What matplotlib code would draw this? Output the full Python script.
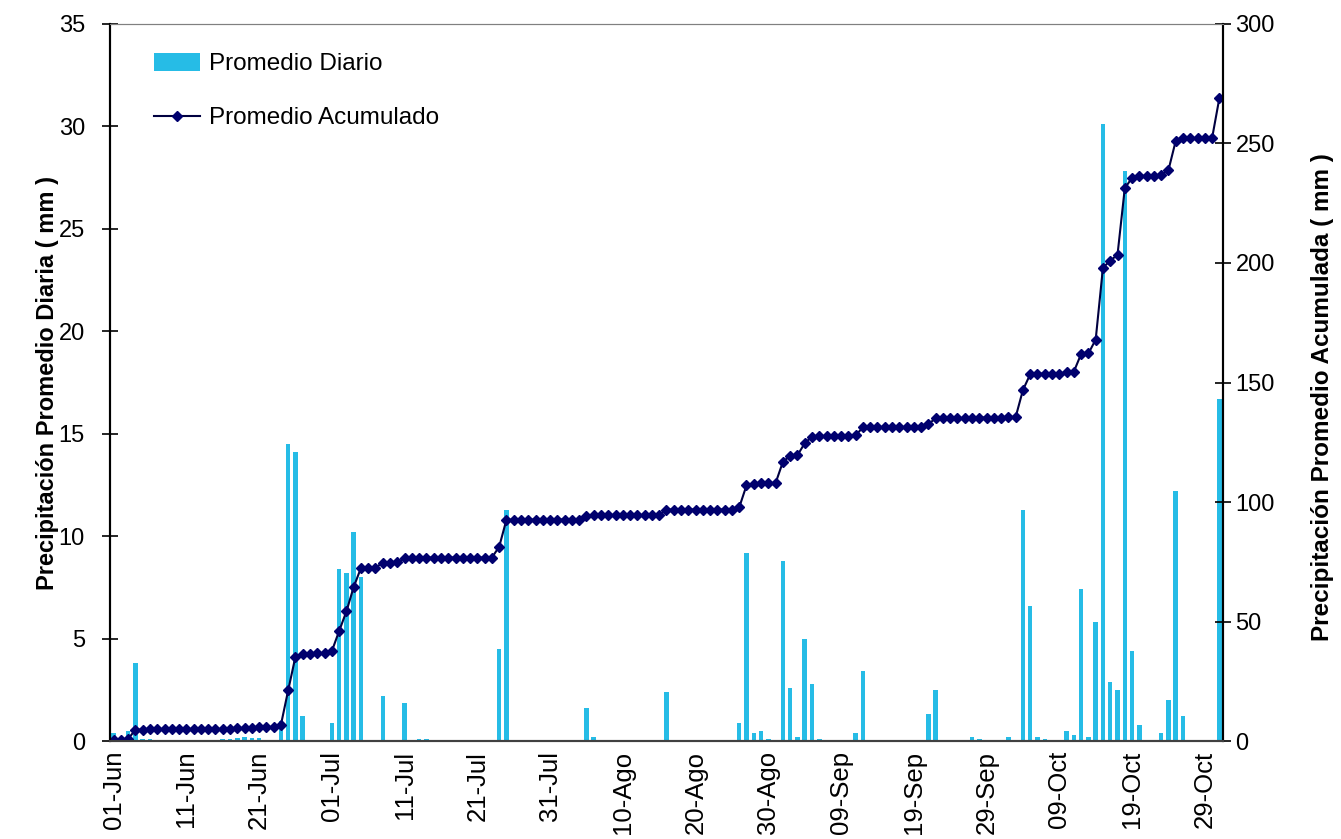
import numpy as np
import matplotlib
matplotlib.use("Agg")
import matplotlib.pyplot as plt
import datetime as dt

plt.rcParams['font.family'] = ['Liberation Sans', 'DejaVu Sans']

# Fechas: 01-Jun a 31-Oct (153 dias)
meses = {6: 'Jun', 7: 'Jul', 8: 'Ago', 9: 'Sep', 10: 'Oct'}
inicio = dt.date(2000, 6, 1)
fechas = [inicio + dt.timedelta(days=i) for i in range(153)]
etiquetas = ["%02d-%s" % (f.day, meses[f.month]) for f in fechas]

# Precipitacion promedio diaria (mm): {indice de dia: valor}
lluvia = {
    0: 0.4, 2: 0.5, 3: 3.8, 4: 0.1, 5: 0.1,
    15: 0.1, 16: 0.1, 17: 0.15, 18: 0.2, 19: 0.15, 20: 0.15,
    23: 1.0, 24: 14.5, 25: 14.1, 26: 1.2, 27: 0.05, 28: 0.05, 29: 0.05,
    30: 0.9, 31: 8.4, 32: 8.2, 33: 10.2, 34: 8.0, 35: 0.05,
    37: 2.2, 39: 0.05, 40: 1.85, 42: 0.1, 43: 0.1,
    53: 4.5, 54: 11.3, 55: 0.05, 60: 0.05, 65: 1.6, 66: 0.2,
    76: 2.4, 86: 0.9, 87: 9.2, 88: 0.4, 89: 0.5, 90: 0.1,
    92: 8.8, 93: 2.6, 94: 0.2, 95: 5.0, 96: 2.8, 97: 0.1,
    102: 0.4, 103: 3.4, 112: 1.3, 113: 2.5, 118: 0.2, 119: 0.1, 123: 0.2,
    125: 11.3, 126: 6.6, 127: 0.2, 128: 0.1,
    131: 0.5, 132: 0.3, 133: 7.4, 134: 0.2, 135: 5.8, 136: 30.1,
    137: 2.9, 138: 2.5, 139: 27.8, 140: 4.4, 141: 0.8,
    144: 0.4, 145: 2.0, 146: 12.2, 147: 1.2, 152: 16.7,
}
diario = np.zeros(len(fechas))
for d, v in lluvia.items():
    diario[d] = v
acumulado = np.cumsum(diario)

x = np.arange(len(fechas))

fig = plt.figure(figsize=(13.41, 8.39), dpi=100)
ax = fig.add_axes([0.082, 0.1168, 0.8300, 0.8546])
ax2 = ax.twinx()

barras = ax.bar(x, diario, width=0.62, color='#26BCE6', label='Promedio Diario', zorder=2)
linea, = ax2.plot(x, acumulado, color='#000040', linewidth=1.5, marker='D', markersize=5.5,
                  markerfacecolor='#00006E', markeredgecolor='#00006E', label='Promedio Acumulado')

ax.set_xlim(-0.5, len(fechas) - 0.5)
ax.set_ylim(0, 35)
ax.set_yticks(np.arange(0, 36, 5))
ax2.set_ylim(0, 300)
ax2.set_yticks(np.arange(0, 301, 50))

ax.set_xticks(x[::10])
ax.set_xticklabels(etiquetas[::10], rotation=90, fontsize=18.5)
ax.tick_params(axis='x', length=0, pad=7)
ax.tick_params(axis='y', direction='inout', length=12, width=1.2, labelsize=17, pad=12)
ax2.tick_params(axis='y', direction='inout', length=12, width=1.2, labelsize=17, pad=3)

ax.set_ylabel('Precipitación Promedio Diaria ( mm )', fontsize=17, fontweight='bold', labelpad=0)
ax2.set_ylabel('Precipitación Promedio Acumulada ( mm )', fontsize=17.5, fontweight='bold')
ax2.yaxis.set_label_coords(1.079, 0.48)

for a in (ax, ax2):
    a.spines['left'].set_linewidth(1.5)
    a.spines['right'].set_linewidth(1.5)
    a.spines['top'].set_color('#808080')
    a.spines['bottom'].set_color('#404040')
    a.spines['bottom'].set_linewidth(1.5)

ax.legend([barras, linea], ['Promedio Diario', 'Promedio Acumulado'], loc='upper left',
          bbox_to_anchor=(0.02, 0.99), frameon=False, fontsize=17.5, handlelength=1.9,
          handleheight=0.75, labelspacing=1.3, handletextpad=0.35)

fig.savefig('out.png', dpi=100)
